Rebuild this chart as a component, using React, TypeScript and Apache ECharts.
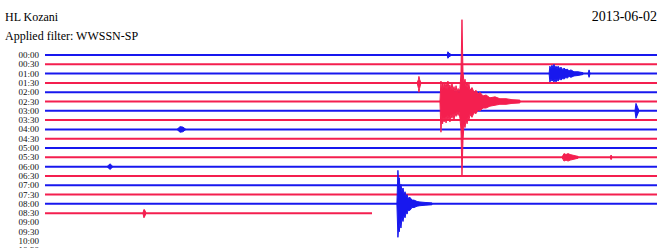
import React, { useEffect, useRef } from 'react';
import * as echarts from 'echarts';

// ---- tick labels (one trace per 30 minutes) ----
const timeLabels = [
  '00:00', '00:30', '01:00', '01:30', '02:00', '02:30', '03:00', '03:30',
  '04:00', '04:30', '05:00', '05:30', '06:00', '06:30', '07:00', '07:30',
  '08:00', '08:30', '09:00', '09:30', '10:00', '10:30',
];

// ---- traces recorded so far: row index and the minute at which each ends ----
const traceRows = [0, 1, 2, 3, 4, 5, 6, 7, 8, 9, 10, 11, 12, 13, 14, 15, 16, 17];
const traceEndMinute = [30, 30, 30, 30, 30, 30, 30, 30, 30, 30, 30, 30, 30, 30, 30, 30, 30, 16.03];
const traceColors = ['#1818ee', '#f41f4f'];

// ---- events: minutes within the row, upper / lower envelope (counts) ----
// 02:30 regional earthquake
const quakeRow = 5;
const quakeMin = [19.36, 19.41, 19.45, 19.49, 19.53, 19.56, 19.61, 19.66, 19.71, 19.75, 19.8, 19.85, 19.9, 19.95, 20.0, 20.05, 20.1, 20.15, 20.2, 20.25, 20.29, 20.34, 20.39, 20.44, 20.49, 20.54, 20.59, 20.64, 20.69, 20.74, 20.78, 20.83, 20.93, 21.03, 21.13, 21.23, 21.32, 21.47, 21.62, 21.81, 22.06, 22.3, 22.6, 22.89, 23.28];
const quakeUp = [0, 22, 10, 19, 12, 21, 14, 20, 13, 22, 15, 18, 12, 20, 12, 16, 10, 17, 10, 14, 9, 14, 30, 88, 32, 20, 24, 16, 21, 14, 19, 12, 15, 10, 12, 8, 10, 6, 7, 4, 5, 3, 3, 2, 1.5];
const quakeDown = [0, 33, 14, 24, 15, 22, 17, 23, 15, 20, 16, 22, 14, 18, 13, 20, 12, 16, 11, 15, 10, 18, 30, 79, 42, 24, 28, 20, 24, 17, 21, 14, 17, 12, 13, 9, 10, 7, 7, 5, 4, 3, 3, 2, 1.5];

// 01:30 foreshock spike
const spike0130Min = [18.24, 18.31, 18.33, 18.36, 18.43];
const spike0130Up = [0, 4, 7, 4, 0];
const spike0130Down = [0, 6, 10, 6, 0];

// 00:00 small arrival
const spike0000Min = [19.71, 19.75, 19.8, 19.95];
const spike0000Up = [0, 3.5, 2, 0];
const spike0000Down = [0, 3.5, 2, 0];

// 01:00 local event
const ev0100Min = [24.71, 24.75, 24.8, 24.85, 24.9, 24.95, 25.0, 25.05, 25.1, 25.15, 25.25, 25.29, 25.39, 25.44, 25.54, 25.59, 25.69, 25.78, 25.93, 26.13, 26.37];
const ev0100Up = [0, 8, 5, 9, 6, 10, 6, 8, 5, 8, 5, 7, 4, 6, 4, 5, 3, 4, 2, 2, 1];
const ev0100Down = [0, 9, 6, 8, 7, 9, 6, 9, 6, 8, 5, 7, 5, 6, 4, 5, 3, 4, 2.5, 2, 1];
const spike0100Min = [26.62, 26.67, 26.72];
const spike0100Up = [0, 4, 0];
const spike0100Down = [0, 4, 0];

// 03:00 spike
const spike0300Min = [28.92, 28.97, 29.12];
const spike0300Up = [0, 8, 0];
const spike0300Down = [0, 8, 0];

// 05:30 small event
const ev0530Min = [25.34, 25.44, 25.54, 25.64, 25.74, 25.93, 26.13];
const ev0530Up = [0, 4, 3, 4, 3, 2, 1];
const ev0530Down = [0, 4, 3, 4, 3, 2, 1];
const spike0530Min = [27.7, 27.75, 27.8];
const spike0530Up = [0, 2.5, 0];
const spike0530Down = [0, 2.5, 0];

// 08:00 local earthquake
const ev0800Min = [17.25, 17.3, 17.34, 17.37, 17.4, 17.45, 17.5, 17.55, 17.6, 17.65, 17.7, 17.75, 17.79, 17.89, 17.99, 18.09, 18.24, 18.38, 18.63, 18.97];
const ev0800Up = [0, 36, 20, 28, 16, 21, 13, 17, 10, 13, 8, 10, 6, 7, 4, 4, 2.5, 2, 1.5, 1];
const ev0800Down = [0, 36, 24, 30, 20, 26, 15, 19, 12, 15, 9, 11, 7, 7, 4, 4, 2.5, 2, 1.5, 1];

// 08:30 spike
const spike0830Min = [4.8, 4.85, 4.9, 4.95];
const spike0830Up = [0, 4, 3, 0];
const spike0830Down = [0, 5, 3, 0];

// 04:00 and 06:00 small blobs
const blob0400Min = [6.47, 6.62, 6.76, 6.91];
const blob0400Up = [0, 3, 2.5, 0];
const blob0400Down = [0, 3, 2.5, 0];
const blob0600Min = [3.04, 3.19, 3.33];
const blob0600Up = [0, 3, 0];
const blob0600Down = [0, 3, 0];

const ROW_STEP = 10; // counts between adjacent traces

type Ev = { row: number; x: number[]; up: number[]; down: number[] };
const events: Ev[] = [
  { row: 0, x: spike0000Min, up: spike0000Up, down: spike0000Down },
  { row: 2, x: ev0100Min, up: ev0100Up, down: ev0100Down },
  { row: 2, x: spike0100Min, up: spike0100Up, down: spike0100Down },
  { row: 3, x: spike0130Min, up: spike0130Up, down: spike0130Down },
  { row: 6, x: spike0300Min, up: spike0300Up, down: spike0300Down },
  { row: 8, x: blob0400Min, up: blob0400Up, down: blob0400Down },
  { row: 11, x: ev0530Min, up: ev0530Up, down: ev0530Down },
  { row: 11, x: spike0530Min, up: spike0530Up, down: spike0530Down },
  { row: 12, x: blob0600Min, up: blob0600Up, down: blob0600Down },
  { row: 16, x: ev0800Min, up: ev0800Up, down: ev0800Down },
  { row: 17, x: spike0830Min, up: spike0830Up, down: spike0830Down },
  { row: quakeRow, x: quakeMin, up: quakeUp, down: quakeDown },
];

export default function App() {
  const ref = useRef<HTMLDivElement>(null);

  useEffect(() => {
    if (!ref.current) return;
    const chart = echarts.init(ref.current, undefined, { renderer: 'svg', width: 660, height: 248 });

    const lineSeries = traceRows.map((r, i) => ({
      type: 'line' as const,
      data: [
        [0, r * ROW_STEP],
        [traceEndMinute[i], r * ROW_STEP],
      ],
      showSymbol: false,
      silent: true,
      lineStyle: { color: traceColors[r % 2], width: 2 },
      z: 2,
    }));

    const eventSeries = {
      type: 'custom' as const,
      silent: true,
      clip: false,
      z: 3,
      data: events.map((e) => [e.x[0], e.row * ROW_STEP]),
      renderItem: (params: any, api: any) => {
        const e = events[params.dataIndex];
        const base = e.row * ROW_STEP;
        const pts: number[][] = [];
        for (let k = 0; k < e.x.length; k++) pts.push(api.coord([e.x[k], base - e.up[k]]));
        for (let k = e.x.length - 1; k >= 0; k--) pts.push(api.coord([e.x[k], base + e.down[k]]));
        const c = traceColors[e.row % 2];
        return {
          type: 'polygon',
          shape: { points: pts },
          style: { fill: c, stroke: c, lineWidth: 1, lineJoin: 'miter' },
        };
      },
    };

    chart.setOption({
      animation: false,
      backgroundColor: '#ffffff',
      grid: {
        left: 45,
        right: 3,
        top: 8.5,
        bottom: -7,
        containLabel: false,
        outerBoundsMode: 'none',
      },
      xAxis: {
        type: 'value',
        min: 0,
        max: 30,
        show: false,
      },
      yAxis: {
        type: 'value',
        inverse: true,
        min: -50,
        max: 215,
        interval: 10,
        axisLine: { show: false },
        axisTick: { show: false },
        splitLine: { show: false },
        axisLabel: {
          margin: 6,
          fontFamily: 'Liberation Serif',
          fontSize: 9,
          color: '#111',
          formatter: (v: number) => {
            if (v < 0 || v % ROW_STEP !== 0) return '';
            return timeLabels[v / ROW_STEP] ?? '';
          },
        },
      },
      graphic: [
        {
          type: 'text',
          left: 5,
          top: 11,
          style: { text: 'HL Kozani', font: '12px "Liberation Serif"', fill: '#000' },
        },
        {
          type: 'text',
          left: 5,
          top: 30,
          style: { text: 'Applied filter: WWSSN-SP', font: '12px "Liberation Serif"', fill: '#000' },
        },
        {
          type: 'text',
          right: 3,
          top: 9,
          style: { text: '2013-06-02', font: '14px "Liberation Serif"', fill: '#000' },
        },
      ],
      series: [...lineSeries, eventSeries],
    });

    return () => chart.dispose();
  }, []);

  return (
    <div
      ref={ref}
      style={{ position: 'fixed', left: 0, top: 0, width: 660, height: 248, background: '#fff' }}
    />
  );
}
